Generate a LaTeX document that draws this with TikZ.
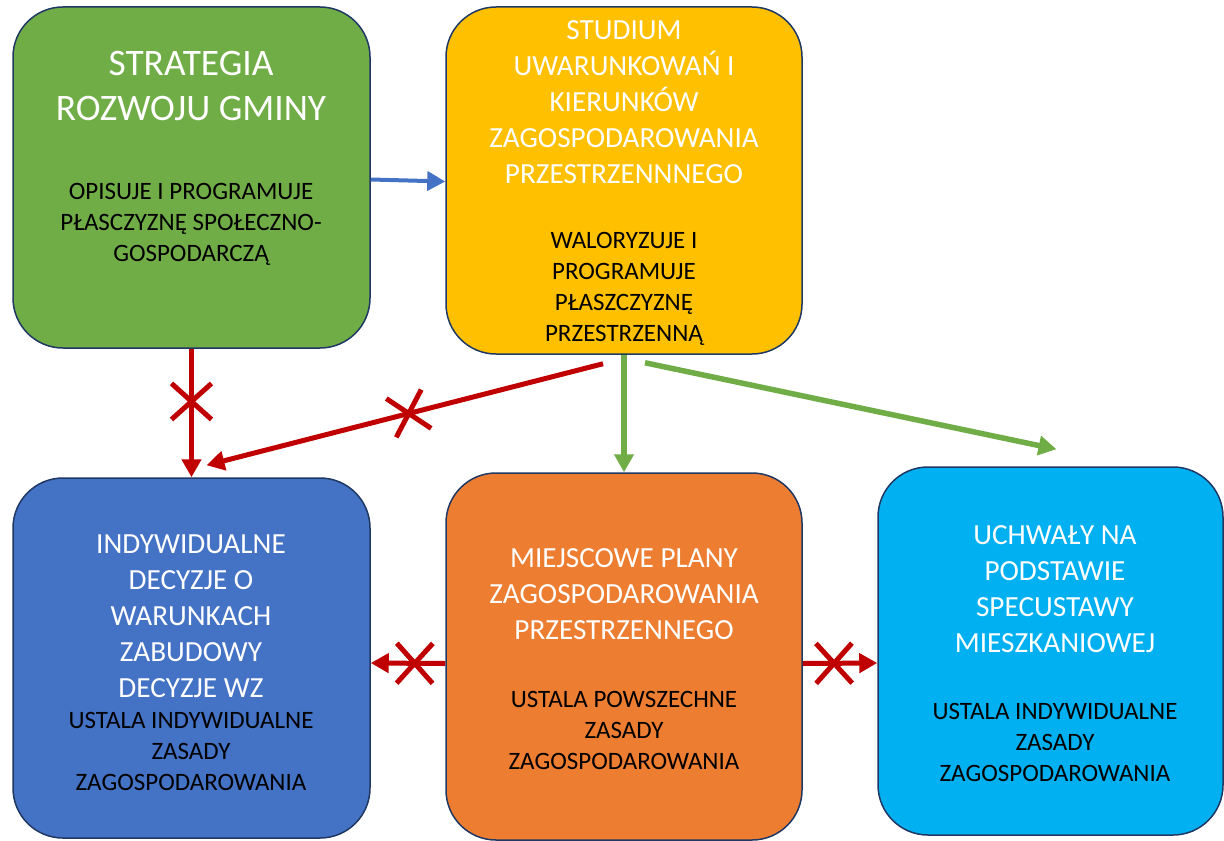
\documentclass[tikz,border=0pt]{standalone}
\usepackage{fontspec}
\setmainfont{Carlito}
\usetikzlibrary{arrows.meta,calc,decorations.markings}
\definecolor{cgreen}{HTML}{70AD47}
\definecolor{cyellow}{HTML}{FFC000}
\definecolor{cblue}{HTML}{4472C4}
\definecolor{corange}{HTML}{ED7D31}
\definecolor{clblue}{HTML}{00B0F0}
\definecolor{cred}{HTML}{C00000}
\definecolor{cedge}{HTML}{203864}
\begin{document}
\begin{tikzpicture}[x=0.5pt,y=-0.5pt,
 box/.style={draw=cedge, line width=0.75pt, rounded corners=25pt, inner sep=0pt},
 bigtitle/.style={text=white, align=center, font=\fontsize{18.7}{22.5}\selectfont},
 title/.style={text=white, align=center, font=\fontsize{14.6}{18}\selectfont},
 body/.style={text=black, align=center, font=\fontsize{12.5}{15.5}\selectfont},
 conn/.style={line width=2.5pt, -{Triangle[length=9pt,width=9.5pt]}},
 crossed/.style={postaction={decorate}, decoration={markings, mark=at position #1 with {\draw[cred, line width=2.5pt, -] (-9pt,-10pt)--(9pt,10pt) (-9pt,10pt)--(9pt,-10pt);}}},
]
\useasboundingbox (0,0) rectangle (1224,840);
% boxes
\node[box, fill=cgreen, minimum width=178.5pt, minimum height=170.5pt] (green) at (191.5,177.5) {};
\node[box, fill=cyellow, minimum width=178pt, minimum height=173.5pt] (yellow) at (624,180.5) {};
\node[box, fill=cblue, minimum width=178.5pt, minimum height=180pt] (blue) at (191.5,658) {};
\node[box, fill=corange, minimum width=178pt, minimum height=183.5pt] (orange) at (624,656.5) {};
\node[box, fill=clblue, minimum width=172.5pt, minimum height=184pt] (lblue) at (1050.5,651) {};
% texts
\node[bigtitle] (gT) at (191,86.5) {STRATEGIA\\ROZWOJU GMINY};
\node[body] (gB) at (191,224) {OPISUJE I PROGRAMUJE\\PŁASCZYZNĘ SPOŁECZNO-\\GOSPODARCZĄ};
\node[title] (yT) at (624,102) {STUDIUM\\UWARUNKOWAŃ I\\KIERUNKÓW\\ZAGOSPODAROWANIA\\PRZESTRZENNNEGO};
\node[body] (yB) at (624,288.5) {WALORYZUJE I\\PROGRAMUJE\\PŁASZCZYZNĘ\\PRZESTRZENNĄ};
\node[title] (bT) at (191,616.5) {INDYWIDUALNE\\DECYZJE O\\WARUNKACH\\ZABUDOWY\\DECYZJE WZ};
\node[body] (bB) at (191,751.5) {USTALA INDYWIDUALNE\\ZASADY\\ZAGOSPODAROWANIA};
\node[title] (oT) at (624,594) {MIEJSCOWE PLANY\\ZAGOSPODAROWANIA\\PRZESTRZENNEGO};
\node[body] (oB) at (624,730.5) {USTALA POWSZECHNE\\ZASADY\\ZAGOSPODAROWANIA};
\node[title] (lT) at (1055,589) {UCHWAŁY NA\\PODSTAWIE\\SPECUSTAWY\\MIESZKANIOWEJ};
\node[body] (lB) at (1055,742) {USTALA INDYWIDUALNE\\ZASADY\\ZAGOSPODAROWANIA};
% connectors
\draw[conn, cblue, line width=2pt] ($(green.east)+(0,2)$) -- ($(yellow.west)+(0,1)$);
\draw[conn, cred, crossed=0.41] (green.south) -- (blue.north);
\draw[conn, cred, crossed=0.49] ($(yellow.south)+(-21,9)$) -- ($(blue.north)+(15,-12)$);
\draw[conn, cgreen, line width=2.75pt] (yellow.south) -- (orange.north);
\draw[conn, cgreen, line width=2.75pt] ($(yellow.south)+(21,8)$) -- ($(lblue.north)+(6,-17)$);
\draw[conn, cred, crossed=0.41] ($(orange.west)+(0,7)$) -- ($(blue.east)+(0,5)$);
\draw[conn, cred, crossed=0.42] ($(orange.east)+(0,7)$) -- ($(lblue.west)+(0,12)$);
\end{tikzpicture}
\end{document}
